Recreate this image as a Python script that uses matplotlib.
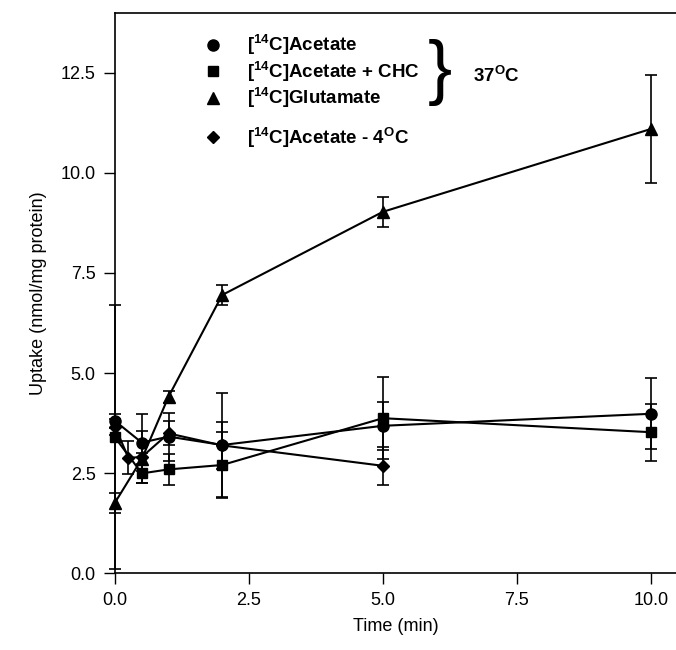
import matplotlib
matplotlib.use("Agg")
import matplotlib.pyplot as plt
from matplotlib.lines import Line2D

plt.rcParams['font.family'] = ['Liberation Sans', 'DejaVu Sans']
plt.rcParams['mathtext.fontset'] = 'custom'
plt.rcParams['mathtext.rm'] = 'Liberation Sans'
plt.rcParams['mathtext.bf'] = 'Liberation Sans:bold'

# data
t_acetate = [0, 0.5, 1, 2, 5, 10]
acetate = [3.80, 3.26, 3.41, 3.20, 3.68, 3.98]
acetate_err = [0.17, 0.71, 0.6, 1.3, 0.6, 0.89]

t_chc = [0, 0.5, 1, 2, 5, 10]
acetate_chc = [3.39, 2.49, 2.59, 2.70, 3.87, 3.52]
acetate_chc_err = [3.3, 0.23, 0.39, 0.83, 1.02, 0.71]

t_glu = [0, 0.5, 1, 2, 5, 10]
glutamate = [1.76, 2.85, 4.41, 6.95, 9.03, 11.10]
glutamate_err = [0.25, 0.15, 0.15, 0.25, 0.38, 1.36]

t_cold = [0, 0.25, 0.5, 1, 2, 5]
acetate_cold = [3.66, 2.88, 2.90, 3.49, 3.19, 2.68]
acetate_cold_err = [0.2, 0.41, 0.65, 0.3, 0.58, 0.48]

x_ticks = [0.0, 2.5, 5.0, 7.5, 10.0]
y_ticks = [0.0, 2.5, 5.0, 7.5, 10.0, 12.5]

labels = [r'[$^{\bf 14}$C]Acetate',
          r'[$^{\bf 14}$C]Acetate + CHC',
          r'[$^{\bf 14}$C]Glutamate',
          r'[$^{\bf 14}$C]Acetate - 4$^{\bf O}$C']

fig = plt.figure(figsize=(6.76, 6.5), dpi=100)
ax = fig.add_axes([115 / 676, 77 / 650, 561 / 676, 560 / 650])

series = [
    (t_acetate, acetate, acetate_err, 'o', 8),
    (t_chc, acetate_chc, acetate_chc_err, 's', 7),
    (t_glu, glutamate, glutamate_err, '^', 8),
    (t_cold, acetate_cold, acetate_cold_err, 'D', 6.5),
]
for t, y, e, m, ms in series:
    ax.errorbar(t, y, yerr=e, color='black', marker=m, markersize=ms,
                linewidth=1.5, elinewidth=1.2, capsize=4, capthick=1.2,
                clip_on=False, zorder=3)

ax.set_xlim(0, 10.47)
ax.set_ylim(0, 14.0)
ax.set_xticks(x_ticks)
ax.set_yticks(y_ticks)
ax.set_xticklabels([f'{v:.1f}' for v in x_ticks])
ax.set_yticklabels([f'{v:.1f}' for v in y_ticks])
ax.tick_params(direction='out', length=8, width=1.0, labelsize=13, pad=6)
ax.spines['right'].set_visible(False)
for s in ['left', 'bottom', 'top']:
    ax.spines[s].set_linewidth(1.2)
ax.set_xlabel('Time (min)', fontsize=13, labelpad=6)
ax.set_ylabel('Uptake (nmol/mg protein)', fontsize=13, labelpad=10)

# legend: three 37 C series, then the 4 C series a bit lower
markers = [('o', 8), ('s', 7), ('^', 8), ('D', 6.5)]
handles = [Line2D([], [], color='black', marker=m, markersize=ms, linestyle='none')
           for m, ms in markers]
leg_prop = {'weight': 'bold', 'size': 13.5}
leg1 = ax.legend(handles[:3], labels[:3], loc='upper left',
                 bbox_to_anchor=(0.128, 0.995), frameon=False,
                 prop=leg_prop, handletextpad=1.3,
                 labelspacing=0.08, handlelength=1.0)
ax.add_artist(leg1)
ax.legend(handles[3:], labels[3:], loc='upper left',
          bbox_to_anchor=(0.128, 0.83), frameon=False,
          prop=leg_prop, handletextpad=1.3, handlelength=1.0)

ax.text(0.579, 0.893, '}', transform=ax.transAxes, fontsize=52,
        ha='center', va='center', fontweight='light')
ax.text(0.638, 0.889, r'37$^{\bf O}$C', transform=ax.transAxes,
        fontsize=13.5, fontweight='bold', ha='left', va='center')

fig.savefig('out.png', dpi=100)
